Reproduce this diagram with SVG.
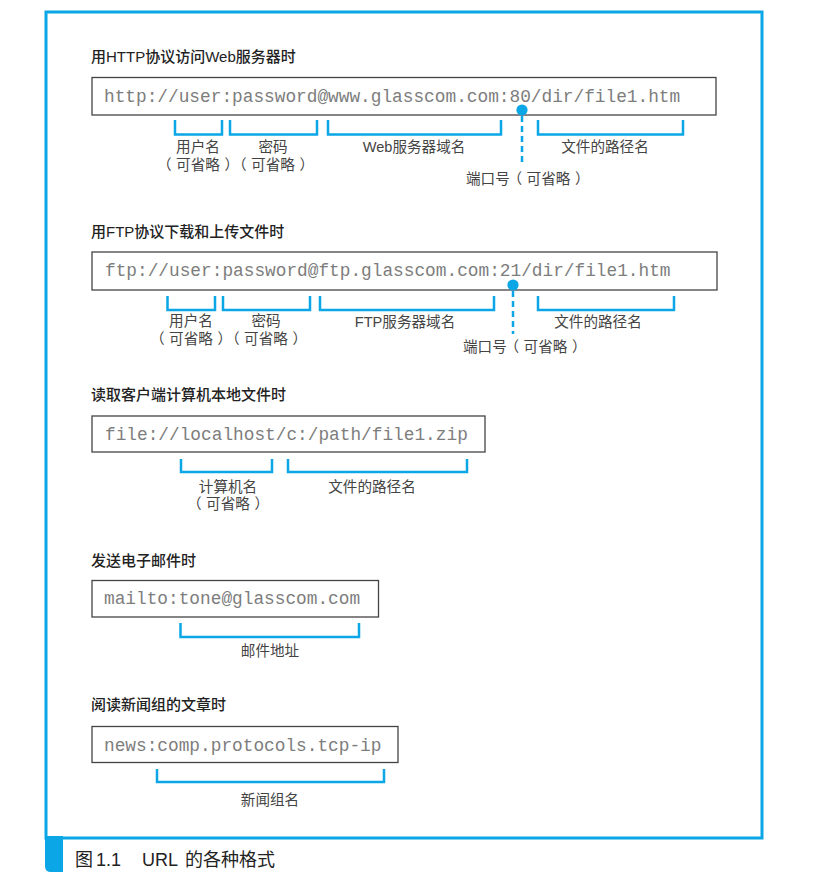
<svg xmlns="http://www.w3.org/2000/svg" width="813" height="875" viewBox="0 0 813 875">
  <style>
    .frame { fill: none; stroke: #0aa6e6; stroke-width: 3; }
    .tab { fill: #0aa6e6; }
    .title { font-family: "Liberation Sans", "Noto Sans CJK SC", sans-serif; font-size: 15px; font-weight: 500; fill: #222; }
    .box { fill: #fff; stroke: #444; stroke-width: 1.3; }
    .url { font-family: "Liberation Mono", "Courier New", monospace; font-size: 17.8px; fill: #7d7d7d; }
    .lbl { font-family: "Liberation Sans", "Noto Sans CJK SC", sans-serif; font-size: 14.6px; fill: #444; text-anchor: middle; }
    .lbl-s { font-family: "Liberation Sans", "Noto Sans CJK SC", sans-serif; font-size: 14.6px; fill: #444; }
    .opt { font-feature-settings: "halt" 1; }
    .brk { fill: none; stroke: #0aa6e6; stroke-width: 2.5; }
    .dash { fill: none; stroke: #0aa6e6; stroke-width: 2.5; stroke-dasharray: 6 4; }
    .dot { fill: #0aa6e6; }
    .cap { font-family: "Liberation Sans", "Noto Sans CJK SC", sans-serif; font-size: 18px; fill: #222; }
  </style>

  <!-- outer frame and caption tab -->
  <rect class="frame" x="46" y="12" width="716" height="826"/>
  <path class="tab" d="M45,836 H63 V872 H51 Q45,872 45,866 Z"/>
  <g id="caption">
    <text class="cap" x="75" y="866">图</text>
    <text class="cap" x="96" y="866">1.1</text>
    <text class="cap" x="142" y="866">URL</text>
    <text class="cap" x="185" y="866">的各种格式</text>
  </g>

  <!-- HTTP -->
  <g id="http">
    <text class="title" x="91" y="62">用HTTP协议访问Web服务器时</text>
    <rect class="box" x="92" y="77.5" width="624" height="37.5"/>
    <text class="url" x="104" y="102">http://user:password@www.glasscom.com:80/dir/file1.htm</text>
  </g>
  <g id="http-parts">
    <text class="lbl" x="198" y="152">用户名</text>
    <text class="lbl opt" x="198" y="170">（<tspan dx="4.5">可省略</tspan><tspan dx="4.5">）</tspan></text>
    <text class="lbl" x="273" y="152">密码</text>
    <text class="lbl opt" x="273" y="170">（<tspan dx="4.5">可省略</tspan><tspan dx="4.5">）</tspan></text>
    <text class="lbl" x="414" y="152">Web服务器域名</text>
    <text class="lbl" x="605" y="152">文件的路径名</text>
    <text class="lbl-s opt" x="466" y="184">端口号<tspan dx="5">（</tspan><tspan dx="4.5">可省略</tspan><tspan dx="4.5">）</tspan></text>
  </g>

  <!-- FTP -->
  <g id="ftp">
    <text class="title" x="91" y="237">用FTP协议下载和上传文件时</text>
    <rect class="box" x="92" y="252" width="625" height="38"/>
    <text class="url" x="105" y="276">ftp://user:password@ftp.glasscom.com:21/dir/file1.htm</text>
  </g>
  <g id="ftp-parts">
    <text class="lbl" x="191" y="326">用户名</text>
    <text class="lbl opt" x="191" y="344">（<tspan dx="4.5">可省略</tspan><tspan dx="4.5">）</tspan></text>
    <text class="lbl" x="266" y="326">密码</text>
    <text class="lbl opt" x="266" y="344">（<tspan dx="4.5">可省略</tspan><tspan dx="4.5">）</tspan></text>
    <text class="lbl" x="405" y="327">FTP服务器域名</text>
    <text class="lbl" x="598" y="327">文件的路径名</text>
    <text class="lbl-s opt" x="463" y="352">端口号<tspan dx="5">（</tspan><tspan dx="4.5">可省略</tspan><tspan dx="4.5">）</tspan></text>
  </g>

  <!-- local file -->
  <g id="file">
    <text class="title" x="91" y="400">读取客户端计算机本地文件时</text>
    <rect class="box" x="92" y="416" width="393" height="36"/>
    <text class="url" x="105" y="440">file://localhost/c:/path/file1.zip</text>
  </g>
  <g id="file-parts">
    <text class="lbl" x="228" y="492">计算机名</text>
    <text class="lbl opt" x="228" y="509">（<tspan dx="4.5">可省略</tspan><tspan dx="4.5">）</tspan></text>
    <text class="lbl" x="372" y="492">文件的路径名</text>
  </g>

  <!-- mail -->
  <g id="mail">
    <text class="title" x="91" y="566">发送电子邮件时</text>
    <rect class="box" x="92" y="580.5" width="286.5" height="36.5"/>
    <text class="url" x="104" y="604">mailto:tone@glasscom.com</text>
  </g>
  <g id="mail-parts">
    <text class="lbl" x="270" y="656">邮件地址</text>
  </g>

  <!-- news -->
  <g id="news">
    <text class="title" x="91" y="710">阅读新闻组的文章时</text>
    <rect class="box" x="92" y="726.5" width="306" height="36"/>
    <text class="url" x="104" y="751">news:comp.protocols.tcp-ip</text>
  </g>
  <g id="news-parts">
    <text class="lbl" x="270" y="805">新闻组名</text>
  </g>

  <!-- brackets, port markers -->
  <g id="connectors">
    <path class="brk" d="M175,120 V134.5 H222 V120"/>
    <path class="brk" d="M230,120 V134.5 H317 V120"/>
    <path class="brk" d="M328,120 V134.5 H501 V120"/>
    <path class="brk" d="M538,120 V134.5 H683 V120"/>
    <line class="dash" x1="522" y1="116" x2="522" y2="165"/>
    <circle class="dot" cx="522" cy="110" r="5.6"/>

    <path class="brk" d="M167.5,296 V310 H215 V296"/>
    <path class="brk" d="M223,296 V310 H310 V296"/>
    <path class="brk" d="M320,296 V310 H494 V296"/>
    <path class="brk" d="M538,296 V310 H674 V296"/>
    <line class="dash" x1="513" y1="291" x2="513" y2="334"/>
    <circle class="dot" cx="513" cy="285" r="5.6"/>

    <path class="brk" d="M181,459 V472 H272 V459"/>
    <path class="brk" d="M288,459 V472 H467 V459"/>

    <path class="brk" d="M180.5,623 V637 H359 V623"/>

    <path class="brk" d="M157,769 V782 H384 V769"/>
  </g>
</svg>
